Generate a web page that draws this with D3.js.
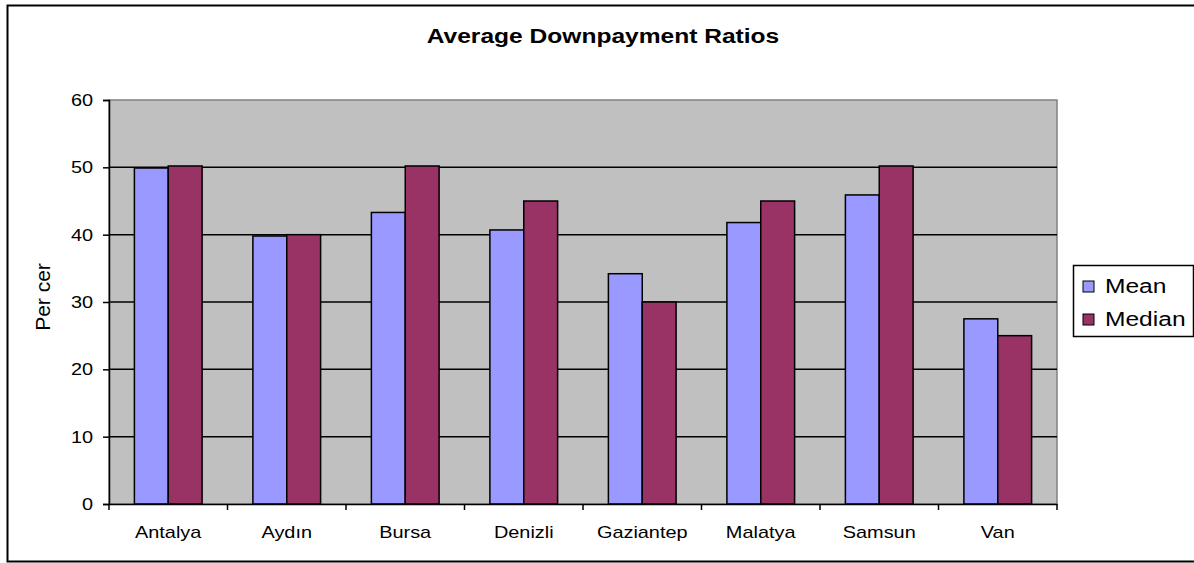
<!DOCTYPE html>
<html>
<head>
<meta charset="utf-8">
<script src="https://cdn.jsdelivr.net/npm/d3@7"></script>
<style>
  html, body { margin: 0; padding: 0; background: #fff; }
  svg { display: block; font-family: "Liberation Sans", Arial, sans-serif; }
  /* the original picture is a bit wider than tall, so the type is stretched sideways */
  .wide { transform-box: fill-box; transform: scaleX(1.17); }
  .wide.mid { transform-origin: center; }
  .wide.end { transform-origin: right; }
  .wide.start { transform-origin: left; }
</style>
</head>
<body>
<div id="chart"></div>
<script>
// Chart data
const cities = ['Antalya', 'Aydın', 'Bursa', 'Denizli', 'Gaziantep', 'Malatya', 'Samsun', 'Van'];
const meanValues = [49.9, 39.8, 43.3, 40.7, 34.2, 41.8, 45.9, 27.5];
const medianValues = [50.2, 40.0, 50.2, 45.0, 30.0, 45.0, 50.2, 25.0];
const seriesNames = ['Mean', 'Median'];
const yTicks = [0, 10, 20, 30, 40, 50, 60];

const colors = { Mean: '#9999FF', Median: '#993366' };

function createChart() {
    const W = 1194, H = 563;
    const plot = { left: 109, right: 1057, top: 100, bottom: 504 };

    const svg = d3.select('#chart')
        .append('svg')
        .attr('width', W)
        .attr('height', H);

    // Outer chart frame
    svg.append('rect')
        .attr('x', 7.5).attr('y', 5.5)
        .attr('width', 1200).attr('height', 556)
        .attr('fill', '#fff')
        .attr('stroke', '#000')
        .attr('stroke-width', 2);

    // Title
    svg.append('text')
        .attr('class', 'wide mid')
        .attr('x', 603).attr('y', 43)
        .attr('text-anchor', 'middle')
        .style('font-size', '21px')
        .style('font-weight', 'bold')
        .text('Average Downpayment Ratios');

    // Scales
    const x0 = d3.scaleBand()
        .domain(cities)
        .range([plot.left, plot.right])
        .paddingInner(0)
        .paddingOuter(0);

    const x1 = d3.scaleBand()
        .domain(seriesNames)
        .range([0, x0.bandwidth()])
        .paddingInner(0)
        .paddingOuter(0.75);

    const y = d3.scaleLinear()
        .domain([0, 60])
        .range([plot.bottom, plot.top]);

    // Plot area background
    svg.append('rect')
        .attr('x', plot.left).attr('y', plot.top)
        .attr('width', plot.right - plot.left)
        .attr('height', plot.bottom - plot.top)
        .attr('fill', '#C0C0C0')
        .attr('stroke', '#808080')
        .attr('stroke-width', 1.5);

    // Gridlines
    svg.append('g')
        .selectAll('line')
        .data(yTicks.filter(d => d > 0 && d < 60))
        .enter().append('line')
        .attr('x1', plot.left).attr('x2', plot.right)
        .attr('y1', d => y(d)).attr('y2', d => y(d))
        .attr('stroke', '#000')
        .attr('stroke-width', 1.5);

    // Bars
    const rows = cities.map((c, i) => ({ city: c, Mean: meanValues[i], Median: medianValues[i] }));

    const groups = svg.append('g')
        .selectAll('g')
        .data(rows)
        .enter().append('g')
        .attr('transform', d => `translate(${x0(d.city)},0)`);

    groups.selectAll('rect')
        .data(d => seriesNames.map(s => ({ key: s, value: d[s] })))
        .enter().append('rect')
        .attr('x', d => x1(d.key))
        .attr('y', d => y(d.value))
        .attr('width', x1.bandwidth())
        .attr('height', d => y(0) - y(d.value))
        .attr('fill', d => colors[d.key])
        .attr('stroke', '#000')
        .attr('stroke-width', 1.5);

    // Y axis
    const yAxis = svg.append('g')
        .attr('transform', `translate(${plot.left},0)`)
        .call(d3.axisLeft(y).tickValues(yTicks).tickSize(6).tickPadding(10));
    yAxis.selectAll('path, line').attr('stroke', '#000').attr('stroke-width', 1.5);
    yAxis.selectAll('text')
        .attr('class', 'wide end')
        .style('font-size', '17px')
        .style('font-family', '"Liberation Sans", Arial, sans-serif')
        .attr('fill', '#000');

    // X axis
    const xAxis = svg.append('g')
        .attr('transform', `translate(0,${plot.bottom})`)
        .call(d3.axisBottom(x0).tickSize(0).tickPadding(22));
    xAxis.select('.domain').attr('stroke', '#000').attr('stroke-width', 1.5);
    xAxis.selectAll('text')
        .attr('class', 'wide mid')
        .style('font-size', '17px')
        .style('font-family', '"Liberation Sans", Arial, sans-serif')
        .attr('fill', '#000');

    // Category separator ticks
    xAxis.append('g')
        .selectAll('line')
        .data(cities.concat(['__end']))
        .enter().append('line')
        .attr('x1', (d, i) => plot.left + i * x0.step())
        .attr('x2', (d, i) => plot.left + i * x0.step())
        .attr('y1', 0).attr('y2', 6)
        .attr('stroke', '#000')
        .attr('stroke-width', 1.5);

    // Y axis label
    svg.append('text')
        .attr('transform', `translate(50,297) rotate(-90)`)
        .attr('text-anchor', 'middle')
        .style('font-size', '21px')
        .text('Per cer');

    // Legend
    const legend = svg.append('g').attr('transform', 'translate(1073,265)');
    legend.append('rect')
        .attr('x', 0.5).attr('y', 0.5)
        .attr('width', 120).attr('height', 71)
        .attr('fill', '#fff')
        .attr('stroke', '#000')
        .attr('stroke-width', 1.5);

    const items = legend.selectAll('.item')
        .data(seriesNames)
        .enter().append('g')
        .attr('class', 'item')
        .attr('transform', (d, i) => `translate(10,${16 + i * 33})`);

    items.append('rect')
        .attr('width', 11).attr('height', 11)
        .attr('fill', d => colors[d])
        .attr('stroke', '#000')
        .attr('stroke-width', 1);

    items.append('text')
        .attr('class', 'wide start')
        .attr('x', 22).attr('y', 12)
        .style('font-size', '21px')
        .text(d => d);
}

document.addEventListener('DOMContentLoaded', createChart);
</script>
</body>
</html>
